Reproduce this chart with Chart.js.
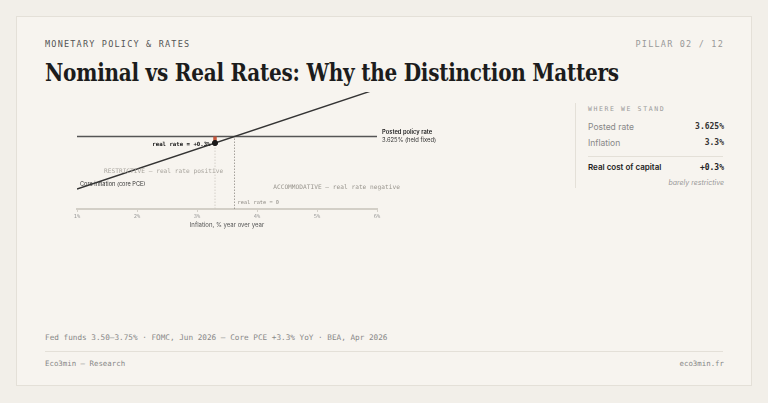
<!DOCTYPE html>
<html>
<head>
<meta charset="utf-8">
<script src="https://cdn.jsdelivr.net/npm/chart.js@4.4.1/dist/chart.umd.min.js"></script>
<style>
  html, body { margin: 0; padding: 0; background: #f2efe9; }
  body { width: 768px; height: 403px; position: relative; overflow: hidden; font-family: Inter, sans-serif; }
  .card { position: absolute; left: 16px; top: 16px; width: 736px; height: 370px; background: #f7f4ef; border: 1.5px solid #e4e0d8; box-sizing: border-box; }
  .t { position: absolute; white-space: nowrap; line-height: 1.2; transform: translateY(-50%); }
  .r { transform: translate(-100%, -50%); }
  .mono { font-family: "DejaVu Sans Mono", monospace; }
  .rule { position: absolute; background: #e4e0d8; }
  #title { position: absolute; left: 45px; top: 62px; font-family: "DejaVu Serif", serif; font-weight: 700; font-size: 23.5px; line-height: 1; color: #1c1c1c; white-space: nowrap; transform-origin: left top; letter-spacing: -0.3px; }
  #chartBox { position: absolute; left: 40px; top: 80px; width: 520px; height: 160px; }
</style>
</head>
<body>
<div class="card"></div>

<div class="t mono" style="left:45px;top:44px;font-size:8.5px;letter-spacing:1.2px;color:#555;">MONETARY POLICY &amp; RATES</div>
<div class="t mono r" style="left:724px;top:44px;font-size:8.5px;letter-spacing:1.2px;color:#999;">PILLAR 02 / 12</div>
<div id="title">Nominal vs Real Rates: Why the Distinction Matters</div>

<div id="chartBox"><canvas id="rateChart"></canvas></div>

<!-- where we stand -->
<div class="rule" style="left:575px;top:103px;width:1px;height:85px;"></div>
<div class="t mono" style="left:588px;top:110px;font-size:6.5px;letter-spacing:1.6px;color:#999;">WHERE WE STAND</div>
<div class="t" style="left:588px;top:127px;font-size:8.5px;color:#888;">Posted rate</div>
<div class="t mono r" style="left:724px;top:127px;font-size:8px;font-weight:700;color:#333;" id="vPosted"></div>
<div class="t" style="left:588px;top:143px;font-size:8.5px;color:#888;">Inflation</div>
<div class="t mono r" style="left:724px;top:143px;font-size:8px;font-weight:700;color:#333;" id="vInfl"></div>
<div class="rule" style="left:588px;top:156px;width:135px;height:1px;"></div>
<div class="t" style="left:588px;top:168px;font-size:8px;font-weight:600;color:#222;">Real cost of capital</div>
<div class="t mono r" style="left:724px;top:168px;font-size:8px;font-weight:700;color:#222;" id="vReal"></div>
<div class="t r" style="left:724px;top:183px;font-size:7px;font-style:italic;color:#999;">barely restrictive</div>

<!-- footer -->
<div class="t mono" style="left:45px;top:338px;font-size:7.7px;color:#888;">Fed funds 3.50–3.75% · FOMC, Jun 2026 — Core PCE +3.3% YoY · BEA, Apr 2026</div>
<div class="rule" style="left:45px;top:351px;width:678px;height:1px;"></div>
<div class="t mono" style="left:45px;top:364px;font-size:7.4px;color:#888;">Eco3min — Research</div>
<div class="t mono r" style="left:724px;top:364px;font-size:7.4px;color:#888;">eco3min.fr</div>

<script>
// data
const inflationRange = [1, 6];          // x domain, % yoy
const xTickValues = [1, 2, 3, 4, 5, 6];
const xTickLabels = ["1%", "2%", "3%", "4%", "5%", "6%"];
const policyRate = 3.625;               // held fixed
const coreInflation = 3.3;              // core PCE
const realRateLabel = "+0.3%";

document.getElementById("vPosted").textContent = policyRate + "%";
document.getElementById("vInfl").textContent = coreInflation + "%";
document.getElementById("vReal").textContent = realRateLabel;

// fit title width
const titleEl = document.getElementById("title");
titleEl.style.transform = `scaleX(${574 / titleEl.scrollWidth})`;

const MONO = '"DejaVu Sans Mono", monospace';
const SANS = 'Inter, sans-serif';

// nominal = inflation line (real rate = 0)
const breakEvenLine = inflationRange.map((v) => ({ x: v, y: v }));
const policyLine = inflationRange.map((v) => ({ x: v, y: policyRate }));

const labelsPlugin = {
  id: "rateLabels",
  afterDatasetsDraw(chart) {
    const { ctx, scales: { x, y } } = chart;
    const put = (text, px, py, font, color, align = "left") => {
      ctx.save();
      ctx.font = font;
      ctx.fillStyle = color;
      ctx.textAlign = align;
      ctx.textBaseline = "middle";
      ctx.fillText(text, px, py);
      ctx.restore();
    };
    put(`real rate = ${realRateLabel}`, x.getPixelForValue(coreInflation) - 4.5, y.getPixelForValue(coreInflation) + 1.5,
        `bold 5.7px ${MONO}`, "#111", "right");
    put("Posted policy rate", x.getPixelForValue(6) + 5, y.getPixelForValue(policyRate) - 4.5,
        `600 5.8px ${SANS}`, "#222");
    put(`${policyRate}% (held fixed)`, x.getPixelForValue(6) + 5, y.getPixelForValue(policyRate) + 3.5,
        `5.8px ${SANS}`, "#333");
    put("RESTRICTIVE — real rate positive", x.getPixelForValue(1.45), y.getPixelForValue(1.9),
        `6.2px ${MONO}`, "#aaa69f");
    put("Core inflation (core PCE)", x.getPixelForValue(1.05), y.getPixelForValue(1.25),
        `5.6px ${SANS}`, "#333");
    put("ACCOMMODATIVE — real rate negative", x.getPixelForValue(4.27), y.getPixelForValue(1.1),
        `6.2px ${MONO}`, "#9a968f");
    put("real rate = 0", x.getPixelForValue(policyRate) + 3, y.getPixelForValue(0.3),
        `5.3px ${MONO}`, "#8f8b85");
  },
};

new Chart(document.getElementById("rateChart"), {
  type: "scatter",
  data: {
    datasets: [
      {
        // current reading
        data: [{ x: coreInflation, y: coreInflation }],
        pointRadius: 2.6,
        pointBackgroundColor: "#1a1a1a",
        pointBorderColor: "#1a1a1a",
        showLine: false,
      },
      {
        // real-rate gap
        data: [{ x: coreInflation, y: coreInflation }, { x: coreInflation, y: policyRate }],
        showLine: true,
        borderColor: "#c4553a",
        borderWidth: 3.5,
        pointRadius: 0,
      },
      {
        data: breakEvenLine,
        showLine: true,
        borderColor: "#333",
        borderWidth: 1.4,
        pointRadius: 0,
      },
      {
        data: policyLine,
        showLine: true,
        borderColor: "#555",
        borderWidth: 1.4,
        pointRadius: 0,
      },
      {
        data: [{ x: policyRate, y: 0 }, { x: policyRate, y: policyRate }],
        showLine: true,
        borderColor: "#8f8b85",
        borderWidth: 0.8,
        borderDash: [1.5, 1.5],
        pointRadius: 0,
      },
      {
        data: [{ x: coreInflation, y: 0 }, { x: coreInflation, y: coreInflation }],
        showLine: true,
        borderColor: "#cbc7bf",
        borderWidth: 0.8,
        borderDash: [1.5, 1.5],
        pointRadius: 0,
      },
    ],
  },
  options: {
    responsive: true,
    maintainAspectRatio: false,
    animation: false,
    events: [],
    layout: { padding: { left: 37, right: 183, top: 12, bottom: 0 } },
    plugins: { legend: { display: false }, tooltip: { enabled: false } },
    scales: {
      x: {
        type: "linear",
        min: inflationRange[0],
        max: inflationRange[1],
        afterBuildTicks: (scale) => {
          scale.ticks = xTickValues.map((v) => ({ value: v }));
        },
        afterFit: (scale) => {
          scale.height = 31;
        },
        ticks: {
          callback: (v) => xTickLabels[xTickValues.indexOf(v)],
          font: { family: MONO, size: 5.4 },
          color: "#999",
          padding: 1,
          maxRotation: 0,
        },
        grid: { drawOnChartArea: false, tickLength: 3, color: "#d3cfc7", lineWidth: 1 },
        border: { display: true, color: "#d3cfc7", width: 2 },
        title: {
          display: true,
          text: "Inflation, % year over year",
          font: { family: SANS, size: 6 },
          color: "#555",
          padding: { top: 2, bottom: 11 },
        },
      },
      y: { display: false, min: 0, max: 5.85 },
    },
  },
  plugins: [labelsPlugin],
});
</script>
</body>
</html>
